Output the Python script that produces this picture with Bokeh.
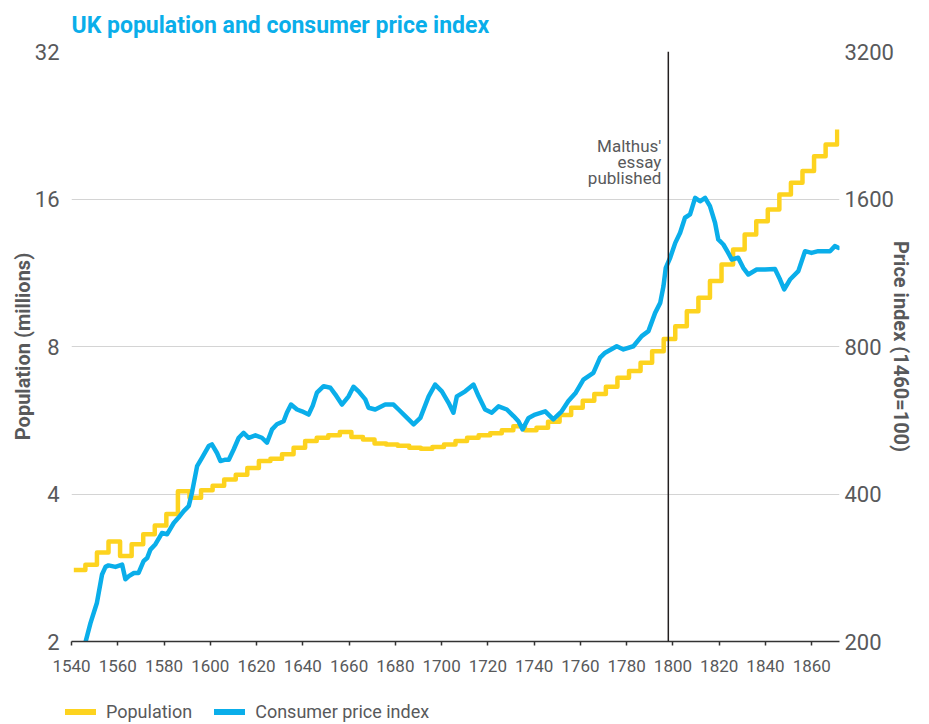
from bokeh.plotting import figure
from bokeh.layouts import row, column
from bokeh.models import (Range1d, LogScale, LogAxis, FixedTicker, BasicTickFormatter,
                          Span, Legend, LegendItem, ColumnDataSource, Spacer)
from bokeh.core.properties import value
from bokeh.embed import file_html
from bokeh.resources import INLINE

# ---------------- data ----------------
pop_years = [1541, 1546, 1551, 1556, 1561, 1566, 1571, 1576, 1581, 1586, 1591, 1596,
             1601, 1606, 1611, 1616, 1621, 1626, 1631, 1636, 1641, 1646, 1651, 1656,
             1661, 1666, 1671, 1676, 1681, 1686, 1691, 1696, 1701, 1706, 1711, 1716,
             1721, 1726, 1731, 1736, 1741, 1746, 1751, 1756, 1761, 1766, 1771, 1776,
             1781, 1786, 1791, 1796, 1801, 1806, 1811, 1816, 1821, 1826, 1831, 1836,
             1841, 1846, 1851, 1856, 1861, 1866, 1871]
population = [2.80, 2.87, 3.04, 3.20, 2.99, 3.16, 3.31, 3.45, 3.64, 4.05, 3.93, 4.07,
              4.16, 4.28, 4.38, 4.52, 4.67, 4.72, 4.82, 4.97, 5.13, 5.21, 5.27, 5.35,
              5.23, 5.17, 5.07, 5.05, 5.02, 4.97, 4.95, 4.99, 5.05, 5.13, 5.21, 5.27,
              5.32, 5.40, 5.50, 5.40, 5.46, 5.62, 5.80, 6.00, 6.20, 6.40, 6.62, 6.91,
              7.13, 7.41, 7.82, 8.29, 8.80, 9.44, 10.06, 10.88, 11.76, 12.62, 13.54, 14.42,
              15.23, 16.35, 17.27, 18.24, 19.56, 20.66, 22.18]

cpi_years = [1546.0, 1548.2, 1551.0, 1553.2, 1554.7, 1556.0, 1559.0, 1561.9, 1563.3, 1564.8,
             1567.0, 1569.0, 1571.2, 1572.7, 1574.1, 1576.3, 1579.1, 1581.3, 1584.2, 1586.3,
             1588.5, 1590.7, 1592.1, 1594.3, 1596.4, 1599.3, 1600.7, 1602.9, 1604.4, 1606.5,
             1608.0, 1610.1, 1612.3, 1614.4, 1616.6, 1619.5, 1622.3, 1624.5, 1626.7, 1628.8,
             1631.7, 1633.1, 1634.9, 1637.5, 1639.6, 1642.5, 1644.3, 1646.1, 1649.0, 1651.9,
             1654.0, 1656.9, 1659.8, 1661.9, 1664.1, 1667.0, 1668.4, 1671.3, 1675.6, 1679.2,
             1681.4, 1684.3, 1687.9, 1690.8, 1694.4, 1697.2, 1700.1, 1703.0, 1705.1, 1706.6,
             1710.2, 1713.8, 1716.0, 1718.8, 1721.7, 1724.6, 1728.2, 1731.1, 1733.2, 1735.0,
             1737.6, 1740.4, 1744.8, 1748.3, 1751.9, 1754.8, 1758.0, 1761.3, 1765.6, 1768.5,
             1770.7, 1775.7, 1778.6, 1782.9, 1786.5, 1789.4, 1792.3, 1794.5, 1795.9, 1796.9,
             1798.8, 1801.0, 1803.1, 1805.2, 1807.4, 1809.6, 1811.7, 1813.9, 1816.0, 1818.2,
             1819.6, 1821.8, 1823.9, 1825.4, 1828.2, 1830.4, 1832.6, 1836.2, 1839.8, 1844.1,
             1846.3, 1848.1, 1850.6, 1854.2, 1857.1, 1859.9, 1862.8, 1865.7, 1867.9, 1870.0,
             1871.5]
cpi = [199, 218, 240, 274, 284, 286, 284, 287, 268, 272,
       276, 276, 292, 296, 308, 316, 333, 331, 349, 358,
       369, 378, 403, 456, 474, 501, 505, 485, 467, 470,
       470, 493, 521, 533, 521, 527, 521, 509, 542, 555,
       563, 586, 609, 595, 590, 581, 606, 644, 664, 659,
       639, 609, 633, 662, 648, 624, 600, 595, 609, 609,
       595, 577, 555, 572, 633, 669, 648, 614, 586, 633,
       648, 669, 633, 595, 586, 604, 595, 577, 563, 542,
       572, 581, 590, 568, 590, 619, 644, 685, 707, 759,
       777, 801, 789, 801, 840, 860, 937, 982, 1062, 1158,
       1214, 1302, 1365, 1465, 1488, 1609, 1583, 1609, 1547, 1431,
       1323, 1292, 1242, 1204, 1214, 1158, 1122, 1149, 1149, 1152,
       1096, 1046, 1096, 1140, 1252, 1242, 1252, 1252, 1252, 1282,
       1272]

x_ticks = [1540, 1560, 1580, 1600, 1620, 1640, 1660, 1680, 1700, 1720, 1740,
           1760, 1780, 1800, 1820, 1840, 1860]
pop_ticks = [2, 4, 8, 16, 32]
cpi_ticks = [200, 400, 800, 1600, 3200]
malthus_year = 1798
malthus_lines = ["Malthus'", "essay", "published"]
malthus_y = [20.5, 19.04, 17.62]
series_names = ["Population", "Consumer price index"]

YELLOW = "#FDD31F"
CYAN = "#0AAEEA"
TEXT = "#58595B"
FONT = "Roboto"

# ---------------- main figure ----------------
p = figure(frame_width=768, frame_height=590, output_backend="svg", toolbar_location=None,
           x_range=Range1d(1540, 1872), y_range=Range1d(2, 32), y_axis_type="log",
           min_border=0)
p.outline_line_color = None
p.background_fill_color = "white"
p.border_fill_color = "white"

p.title.text = "UK population and consumer price index"
p.title.text_color = CYAN
p.title.text_font = FONT
p.title.text_font_size = "23px"
p.title.text_font_style = "bold"
p.title.align = "left"
p.title.vertical_align = "top"
p.title.standoff = 22
p.title.text_line_height = 1.0

p.extra_y_ranges = {"cpi": Range1d(200, 3200)}
p.extra_y_scales = {"cpi": LogScale()}

# x axis
xa = p.xaxis[0]
xa.ticker = FixedTicker(ticks=x_ticks)
xa.formatter = BasicTickFormatter(use_scientific=False)
xa.axis_line_color = "#333333"
xa.axis_line_width = 1.5
xa.major_tick_line_color = "#333333"
xa.major_tick_line_width = 1.5
xa.major_tick_out = 4
xa.major_tick_in = 0
xa.minor_tick_line_color = None
xa.major_label_text_font = FONT
xa.major_label_text_font_size = "17px"
xa.major_label_text_color = TEXT
xa.major_label_standoff = 14

# left axis
ya = p.yaxis[0]
ya.ticker = FixedTicker(ticks=pop_ticks)
ya.formatter = BasicTickFormatter(use_scientific=False)
ya.axis_line_color = None
ya.major_tick_line_color = None
ya.major_tick_out = 0
ya.major_tick_in = 0
ya.minor_tick_line_color = None
ya.minor_tick_out = 0
ya.major_label_text_font = FONT
ya.major_label_text_font_size = "22px"
ya.major_label_text_color = TEXT
ya.major_label_standoff = 12
ya.axis_label = "Population (millions)"
ya.axis_label_text_font = FONT
ya.axis_label_text_font_size = "20px"
ya.axis_label_text_font_style = "bold"
ya.axis_label_text_color = TEXT
ya.axis_label_standoff = -3

# right axis
ra = LogAxis(y_range_name="cpi", ticker=FixedTicker(ticks=cpi_ticks),
             formatter=BasicTickFormatter(use_scientific=False))
ra.axis_line_color = None
ra.major_tick_line_color = None
ra.major_tick_out = 0
ra.major_tick_in = 0
ra.minor_tick_line_color = None
ra.minor_tick_out = 0
ra.major_label_text_font = FONT
ra.major_label_text_font_size = "22px"
ra.major_label_text_color = TEXT
ra.major_label_standoff = 5
ra.axis_label = "Price index (1460=100)"
ra.axis_label_text_font = FONT
ra.axis_label_text_font_size = "20px"
ra.axis_label_text_font_style = "bold"
ra.axis_label_text_color = TEXT
ra.axis_label_standoff = -8
p.add_layout(ra, "right")

p.xgrid.grid_line_color = None
p.ygrid.ticker = FixedTicker(ticks=pop_ticks)
p.ygrid.grid_line_color = "#D4D4D4"
p.ygrid.grid_line_width = 1

# data
p.step(x=pop_years, y=population, mode="after", line_color=YELLOW,
       line_width=4.5, line_join="round")
p.line(x=cpi_years, y=cpi, y_range_name="cpi", line_color=CYAN,
       line_width=4.5, line_join="round", line_cap="round")

# Malthus line and note
p.add_layout(Span(location=malthus_year, dimension="height", line_color="#231F20",
                  line_width=1.5))
src = ColumnDataSource(dict(x=[malthus_year] * 3, y=malthus_y, t=malthus_lines))
p.text(x="x", y="y", text="t", source=src, x_offset=-7, text_align="right",
       text_baseline="alphabetic", text_font=value(FONT), text_font_size="17px",
       text_color=TEXT)

# ---------------- legend strip below the chart ----------------
lg = figure(frame_width=768, frame_height=74, output_backend="svg", toolbar_location=None,
            x_range=Range1d(0, 1), y_range=Range1d(0, 1), min_border=0,
            x_axis_location=None, y_axis_location=None)
lg.outline_line_color = None
lg.xgrid.grid_line_color = None
lg.ygrid.grid_line_color = None
lr_pop = lg.step(x=pop_years, y=population, mode="after", line_color=YELLOW,
                 line_width=6, line_cap="round")
lr_cpi = lg.line(x=cpi_years, y=cpi, line_color=CYAN, line_width=6, line_cap="round")
legend = Legend(items=[LegendItem(label=series_names[0], renderers=[lr_pop]),
                       LegendItem(label=series_names[1], renderers=[lr_cpi])],
                orientation="horizontal", location="left",
                label_text_font=FONT, label_text_font_size="18px",
                label_text_color=TEXT, glyph_width=31, glyph_height=20,
                label_height=20, label_standoff=10, spacing=22, padding=0, margin=0,
                border_line_color=None, background_fill_alpha=0)
lg.add_layout(legend, "center")

layout = column(row(Spacer(width=7, height=10), p),
                row(Spacer(width=65, height=10), lg))
open("out.html", "w").write(file_html(layout, INLINE))
